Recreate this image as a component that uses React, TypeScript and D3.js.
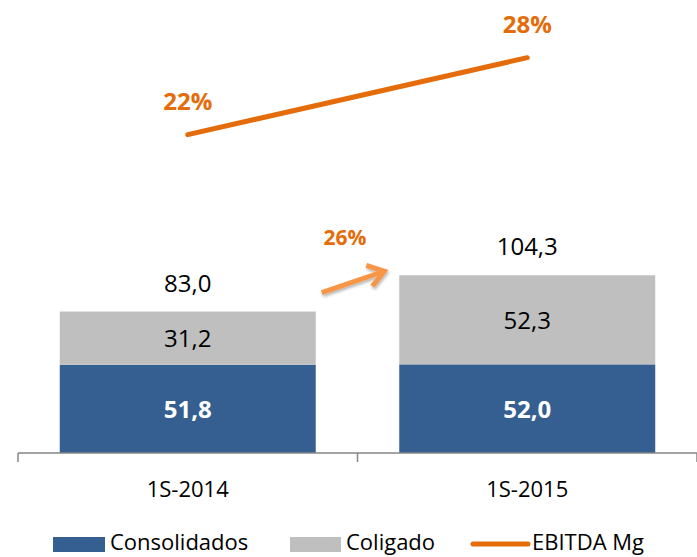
import * as d3 from 'd3'

const categories = ['1S-2014', '1S-2015']
const consolidados = [51.8, 52.0]
const coligado = [31.2, 52.3]
const totals = [83.0, 104.3]
const ebitdaMg = [22, 28]
const growthLabel = '26%'

const W = 697
const H = 557
const FONT = '"Open Sans", sans-serif'
const BLUE = '#365F91'
const GRAY = '#BFBFBF'
const ORANGE = '#E46C0A'
const ARROW = '#F79646'

const fmt = (v: number) => v.toFixed(1).replace('.', ',')

export default function App() {
  const x = d3.scaleBand<string>()
    .domain(categories)
    .range([18, 697])
    .paddingInner(0.246)
    .paddingOuter(0.123)

  const y = d3.scaleLinear().domain([0, 120]).range([453, 248.5])
  // secondary axis for the margin line
  const y2 = d3.scaleLinear().domain([0, 30]).range([417, 32])

  const cx = (c: string) => (x(c) ?? 0) + x.bandwidth() / 2
  const baseY = y(0)

  const line = d3.line<number>()
    .x((_, i) => cx(categories[i]))
    .y(d => y2(d))

  // arrow between the two stacks
  const a0 = { x: x(categories[0])! + x.bandwidth() + 6, y: y(totals[0]) - 19 }
  const a1 = { x: x(categories[1])! - 15, y: y(totals[1]) - 4 }

  return (
    <svg width={W} height={H} style={{ position: 'absolute', left: 0, top: 0 }} fontFamily={FONT}>
      <defs>
        <filter id="shadow" x="-20%" y="-50%" width="140%" height="200%">
          <feDropShadow dx="1" dy="2" stdDeviation="1.5" floodColor="#000" floodOpacity="0.3" />
        </filter>
      </defs>

      {/* bars */}
      {categories.map((c, i) => {
        const bx = x(c)!
        const bw = x.bandwidth()
        const yBlue = y(consolidados[i])
        const yTop = y(consolidados[i] + coligado[i])
        return (
          <g key={c}>
            <rect x={bx} y={yBlue} width={bw} height={baseY - yBlue} fill={BLUE} />
            <rect x={bx} y={yTop} width={bw} height={yBlue - yTop} fill={GRAY} />
            <text x={cx(c)} y={(yBlue + baseY) / 2 + 9} textAnchor="middle" fontSize={24}
              fontWeight="bold" fill="#fff">{fmt(consolidados[i])}</text>
            <text x={cx(c)} y={(yTop + yBlue) / 2 + 9} textAnchor="middle" fontSize={24}
              fill="#000">{fmt(coligado[i])}</text>
            <text x={cx(c)} y={yTop - 20} textAnchor="middle" fontSize={24}
              fill="#000">{fmt(totals[i])}</text>
            <text x={cx(c)} y={497} textAnchor="middle" fontSize={22} fill="#000">{c}</text>
          </g>
        )
      })}

      {/* x axis */}
      <line x1={18} x2={697} y1={baseY} y2={baseY} stroke="#868686" strokeWidth={1.5} />
      {[18, 18 + x.step(), 697].map((t, i) => (
        <line key={i} x1={t} x2={t} y1={baseY} y2={baseY + 9} stroke="#868686" strokeWidth={1.5} />
      ))}

      {/* EBITDA margin line */}
      <path d={line(ebitdaMg) ?? ''} fill="none" stroke={ORANGE} strokeWidth={5} strokeLinecap="round" />
      {ebitdaMg.map((v, i) => (
        <text key={i} x={cx(categories[i])} y={y2(v) - 25} textAnchor="middle" fontSize={24}
          fontWeight="bold" fill={ORANGE}>{v}%</text>
      ))}

      {/* growth arrow */}
      <g filter="url(#shadow)" stroke={ARROW} strokeWidth={5} fill="none" strokeLinecap="butt" strokeLinejoin="miter">
        <line x1={a0.x} y1={a0.y} x2={a1.x - 3} y2={a1.y + 1} />
        <polyline points={`${a1.x - 18},${a1.y - 6} ${a1.x},${a1.y} ${a1.x - 12},${a1.y + 15}`} />
      </g>
      <text x={345} y={245} textAnchor="middle" fontSize={21} fontWeight="bold" fill={ORANGE}>{growthLabel}</text>

      {/* legend */}
      <g fontSize={22} fill="#000">
        <rect x={53} y={537} width={52} height={15} fill={BLUE} />
        <text x={110} y={550}>Consolidados</text>
        <rect x={290} y={537} width={51} height={15} fill={GRAY} />
        <text x={346} y={550}>Coligado</text>
        <line x1={473} x2={528} y1={544} y2={544} stroke={ORANGE} strokeWidth={5} strokeLinecap="round" />
        <text x={532} y={550}>EBITDA Mg</text>
      </g>
    </svg>
  )
}
